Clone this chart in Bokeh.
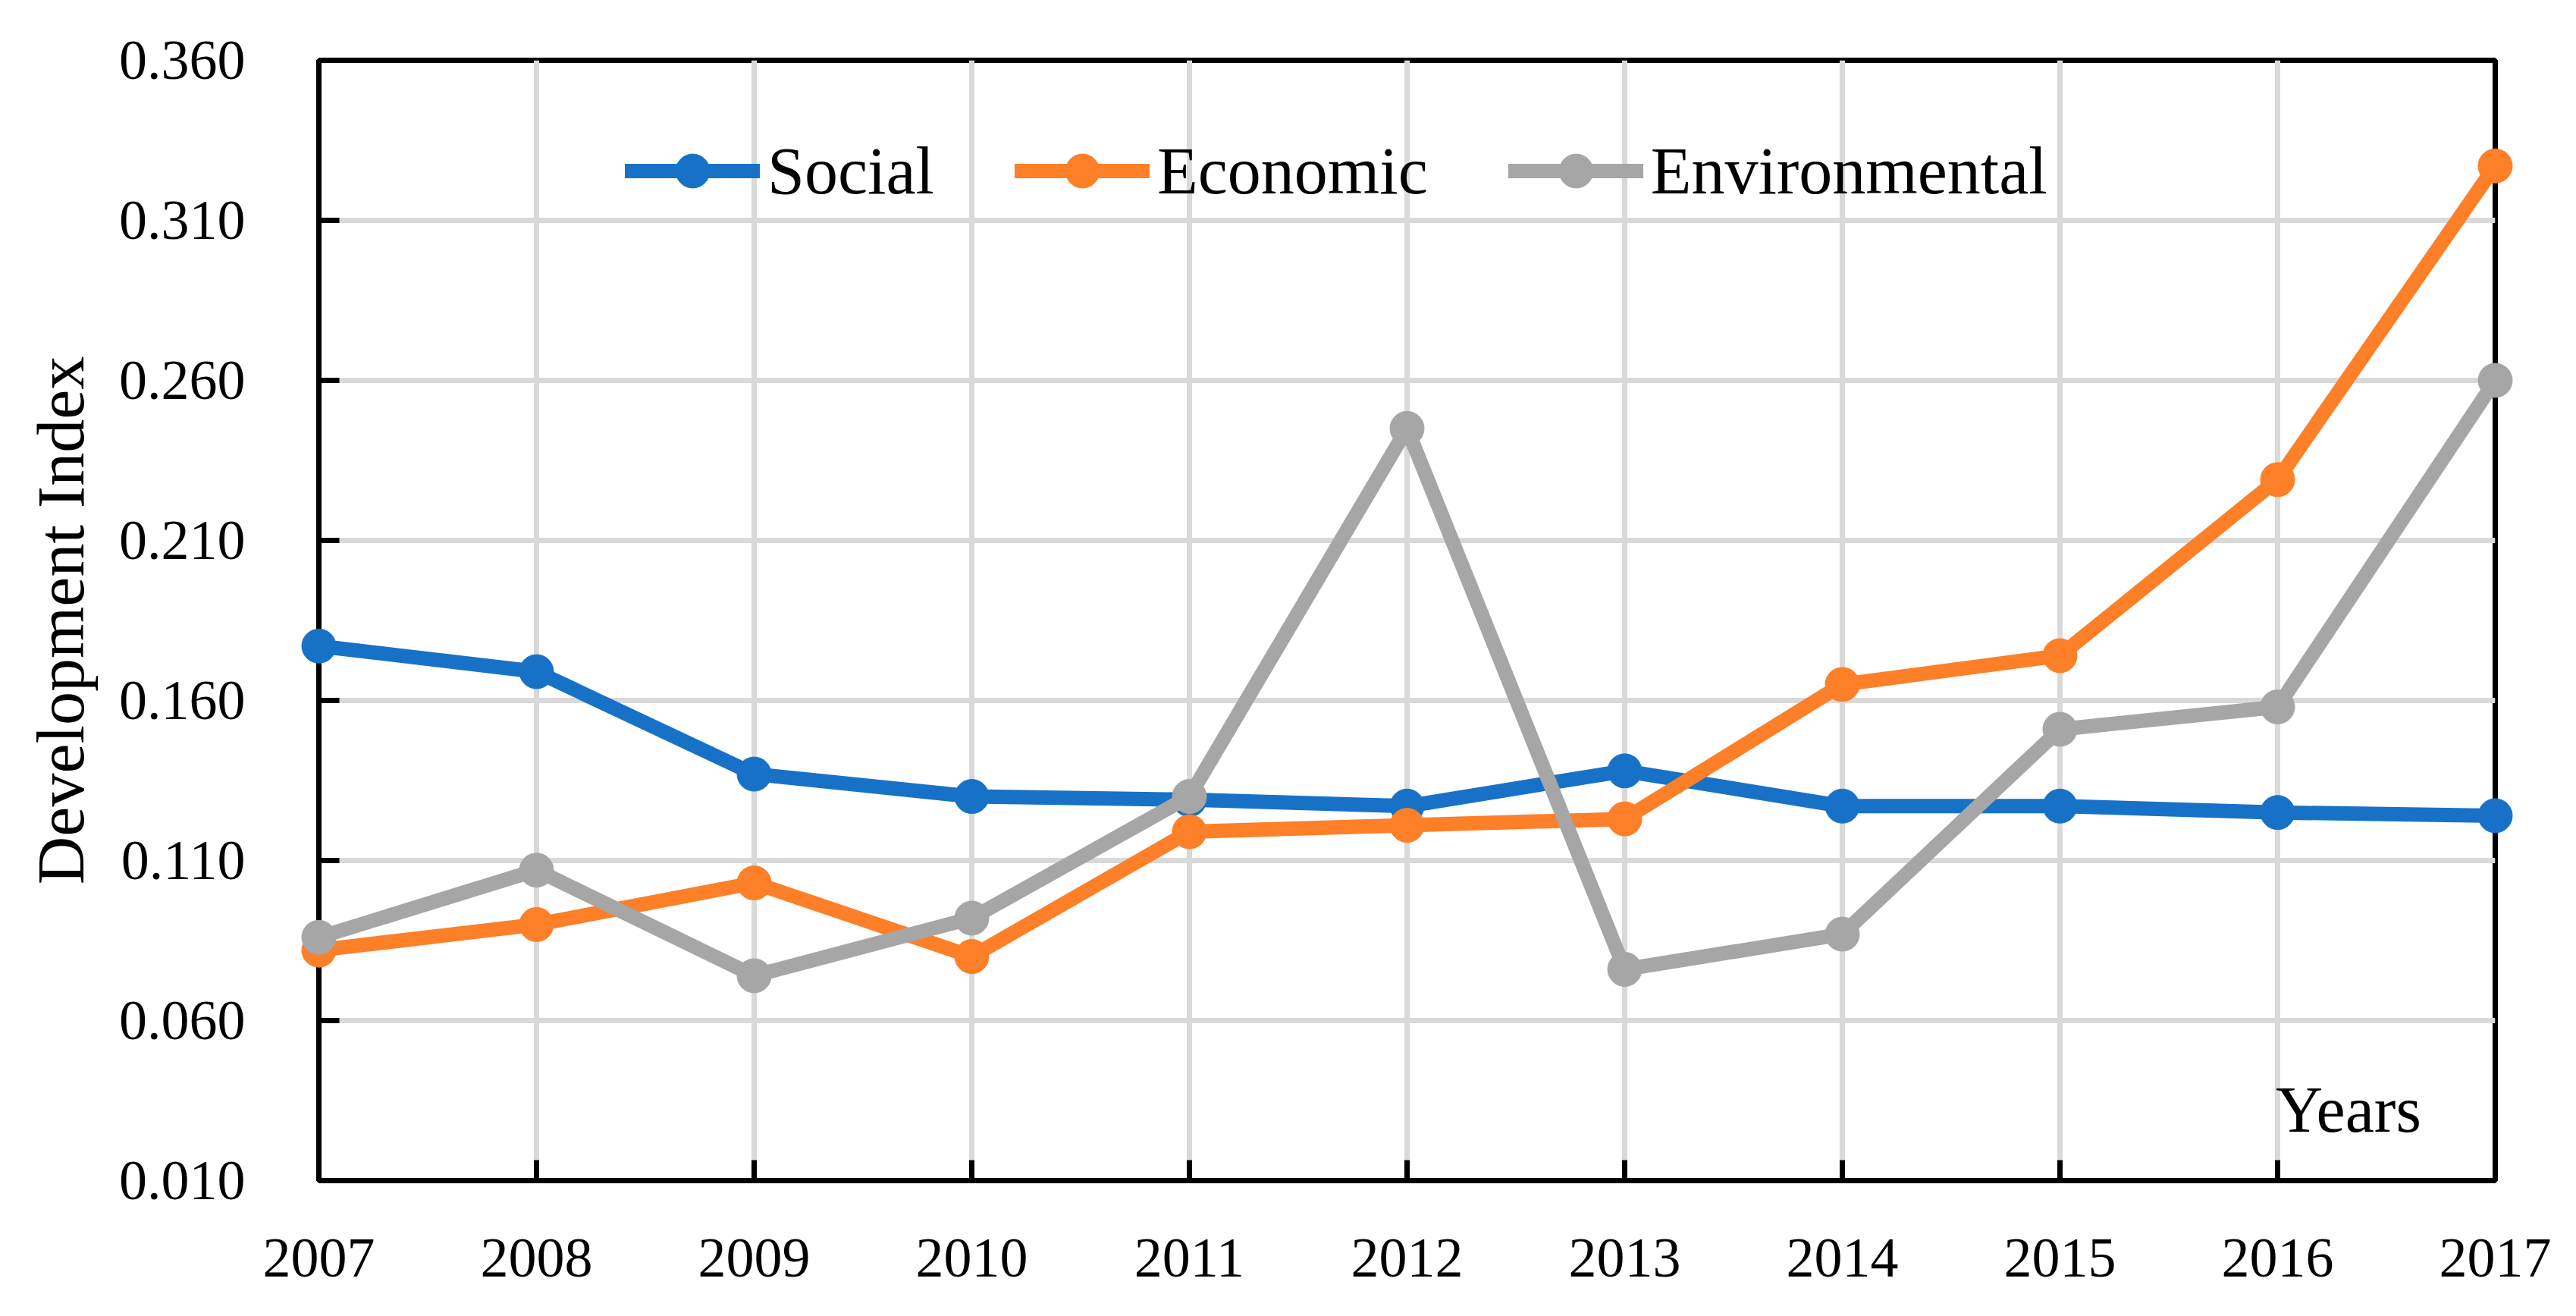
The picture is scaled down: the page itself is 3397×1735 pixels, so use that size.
from bokeh.plotting import figure
from bokeh.models import FixedTicker, Legend, LegendItem, Label
from bokeh.embed import file_html
from bokeh.resources import INLINE

years = [2007, 2008, 2009, 2010, 2011, 2012, 2013, 2014, 2015, 2016, 2017]
social = [0.177, 0.169, 0.137, 0.130, 0.129, 0.127, 0.138, 0.127, 0.127, 0.125, 0.124]
economic = [0.082, 0.090, 0.103, 0.080, 0.119, 0.121, 0.123, 0.165, 0.174, 0.229, 0.327]
environmental = [0.086, 0.107, 0.074, 0.092, 0.130, 0.245, 0.076, 0.087, 0.151, 0.158, 0.260]

y_ticks = [0.010, 0.060, 0.110, 0.160, 0.210, 0.260, 0.310, 0.360]
y_tick_labels = ["0.010", "0.060", "0.110", "0.160", "0.210", "0.260", "0.310", "0.360"]

series_names = ["Social", "Economic", "Environmental"]
series_colors = ["#1772C7", "#FD7F28", "#A6A6A6"]

FONT = "Liberation Serif"

p = figure(width=3381, height=1719, output_backend="svg", toolbar_location=None,
           x_range=(2007, 2017), y_range=(0.010, 0.360),
           min_border_left=420, min_border_right=91, min_border_top=79, min_border_bottom=163)

p.background_fill_color = "white"
p.border_fill_color = "white"
p.outline_line_color = "black"
p.outline_line_width = 7

p.xaxis.ticker = FixedTicker(ticks=years)
p.yaxis.ticker = FixedTicker(ticks=y_ticks)
p.yaxis.major_label_overrides = {t: l for t, l in zip(y_ticks, y_tick_labels)}
p.xaxis.major_label_overrides = {y: str(y) for y in years}

for ax in (p.xaxis, p.yaxis):
    ax.axis_line_color = "black"
    ax.axis_line_width = 7
    ax.major_tick_line_color = "black"
    ax.major_tick_line_width = 7
    ax.major_tick_in = 27
    ax.major_tick_out = 0
    ax.minor_tick_line_color = None
    ax.major_label_text_font = FONT
    ax.major_label_text_font_size = "74px"
    ax.major_label_text_color = "black"

p.xaxis.major_label_standoff = 77
p.yaxis.major_label_standoff = 97

p.yaxis.axis_label = "Development Index"
p.yaxis.axis_label_text_font = FONT
p.yaxis.axis_label_text_font_size = "88px"
p.yaxis.axis_label_text_font_style = "normal"
p.yaxis.axis_label_text_color = "black"
p.yaxis.axis_label_standoff = 25

p.grid.grid_line_color = "#D9D9D9"
p.grid.grid_line_width = 7

items = []
for name, vals, col in zip(series_names, [social, economic, environmental], series_colors):
    r1 = p.line(years, vals, line_color=col, line_width=19, line_join="round",
                line_cap="round", level="overlay")
    r2 = p.scatter(years, vals, size=45, fill_color=col, line_color=col,
                   marker="circle", level="overlay")
    items.append(LegendItem(label=name, renderers=[r1, r2]))

legend = Legend(items=items, orientation="horizontal", location=(404, 1275),
                glyph_width=178, glyph_height=112, label_height=112, label_standoff=10,
                spacing=106, padding=0, margin=0,
                border_line_color=None, background_fill_alpha=0,
                label_text_font=FONT, label_text_font_size="88px", label_text_color="black")
p.add_layout(legend, "center")

years_label = Label(x=2016.66, y=0.0322, text="Years", text_align="right",
                    text_baseline="alphabetic", text_font=FONT, text_font_size="86px",
                    text_color="black")
p.add_layout(years_label)

open("out.html", "w").write(file_html(p, INLINE))
